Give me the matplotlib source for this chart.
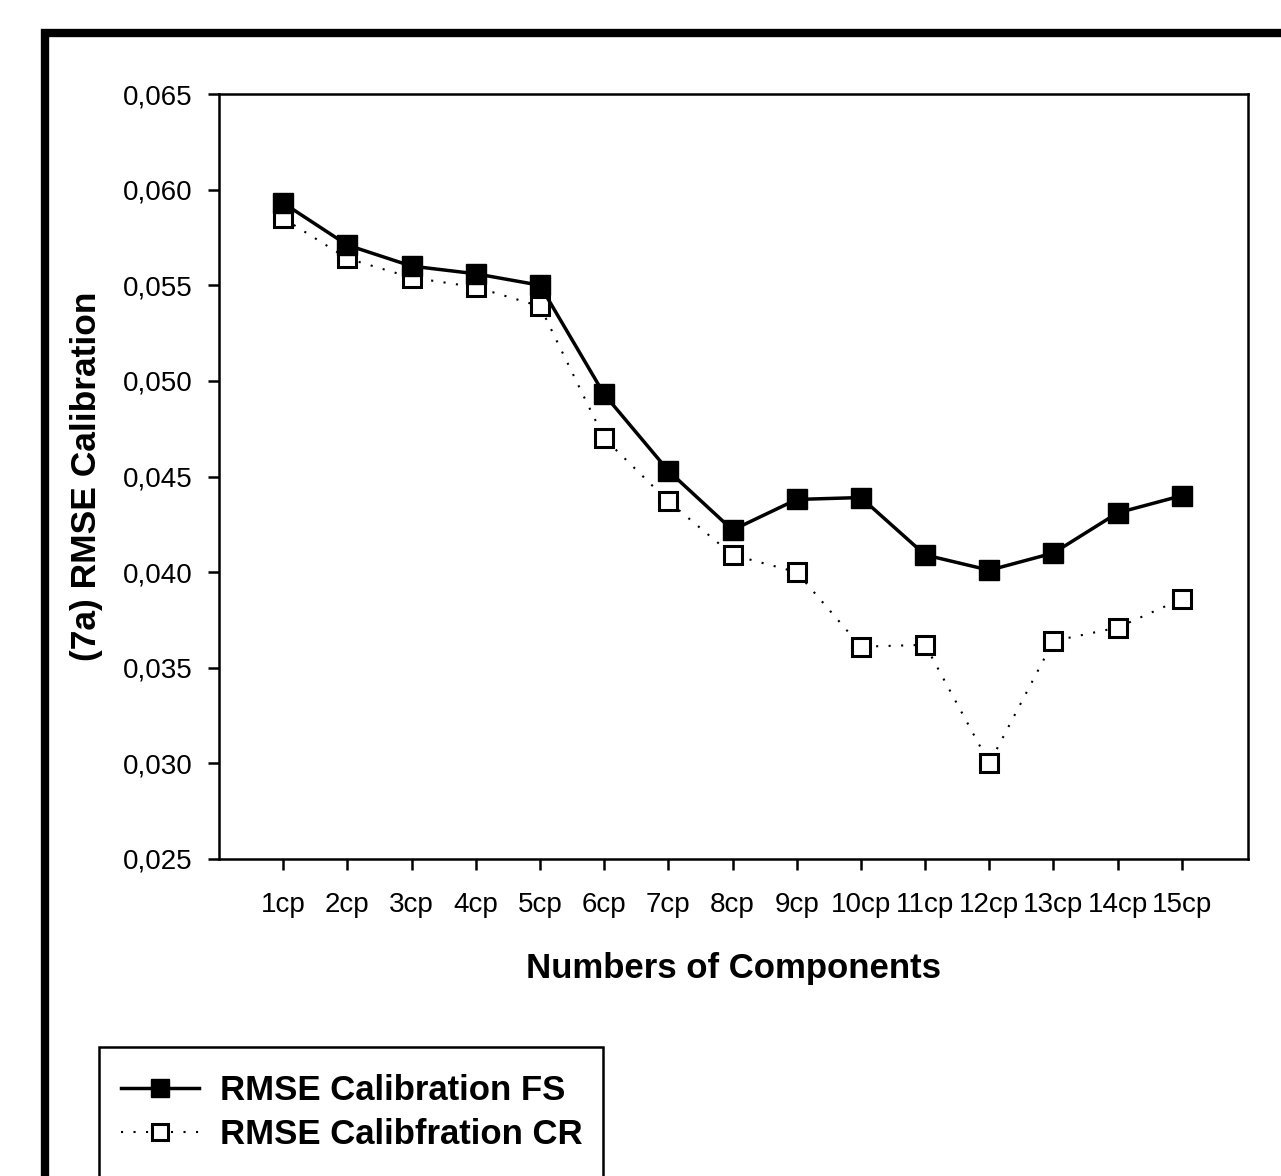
import matplotlib
matplotlib.use('Agg')
import matplotlib.pyplot as plt
from matplotlib.patches import Rectangle
from matplotlib.ticker import FuncFormatter

plt.rcParams['font.family'] = ['Liberation Sans', 'DejaVu Sans']

# Data
components = ['1cp', '2cp', '3cp', '4cp', '5cp', '6cp', '7cp', '8cp',
              '9cp', '10cp', '11cp', '12cp', '13cp', '14cp', '15cp']
rmse_fs = [0.0593, 0.0571, 0.0560, 0.0556, 0.0550, 0.0493, 0.0453, 0.0422,
           0.0438, 0.0439, 0.0409, 0.0401, 0.0410, 0.0431, 0.0440]
rmse_cr = [0.0585, 0.0564, 0.0554, 0.0549, 0.0539, 0.0470, 0.0437, 0.0409,
           0.0400, 0.0361, 0.0362, 0.0300, 0.0364, 0.0371, 0.0386]
yticks = [0.025, 0.030, 0.035, 0.040, 0.045, 0.050, 0.055, 0.060, 0.065]

W, H = 1281, 1176
fig = plt.figure(figsize=(W / 100, H / 100), dpi=100)
ax = fig.add_axes([219 / W, 1 - 859 / H, (1248 - 219) / W, (859 - 94) / H])

x = list(range(1, len(components) + 1))

# CR series (dotted, hollow squares)
ax.plot(x, rmse_cr, linestyle=(0, (1, 5)), color='black', linewidth=1.5,
        marker='s', markersize=13, markerfacecolor='white',
        markeredgecolor='black', markeredgewidth=2.2,
        label='RMSE Calibfration CR', zorder=3)
# FS series (solid, filled squares)
ax.plot(x, rmse_fs, linestyle='-', color='black', linewidth=2.5,
        marker='s', markersize=14, markerfacecolor='black',
        markeredgecolor='black', label='RMSE Calibration FS', zorder=4)

ax.set_xlim(0, 16.03)
ax.set_ylim(0.025, 0.065)
ax.set_xticks(x)
ax.set_xticklabels(components)
ax.set_yticks(yticks)
ax.yaxis.set_major_formatter(FuncFormatter(lambda v, p: f'{v:.3f}'.replace('.', ',')))

for s in ax.spines.values():
    s.set_linewidth(1.8)
ax.tick_params(axis='both', direction='out', length=8, width=1.8,
               labelsize=20, colors='black')
ax.tick_params(axis='x', pad=16)
ax.tick_params(axis='y', pad=11)

ax.set_xlabel('Numbers of Components', fontsize=25, fontweight='bold', labelpad=24)
ax.set_ylabel('(7a) RMSE Calibration', fontsize=25.5, fontweight='bold', labelpad=14)

# Outer thick frame (cut off on right and bottom)
fig.patches.append(Rectangle((45 / W, -0.2), 1.5, 1.2 - 33 / H,
                             transform=fig.transFigure, fill=False,
                             edgecolor='black', linewidth=6, zorder=0))

# Legend box (also cut off at the bottom)
fig.patches.append(Rectangle((99 / W, -0.1), (603 - 99) / W, 0.1 + 1 - 1047 / H,
                             transform=fig.transFigure, fill=False,
                             edgecolor='black', linewidth=1.8, zorder=1))

handles, labels = ax.get_legend_handles_labels()
leg = fig.legend(handles[::-1], labels[::-1], loc='upper left',
                 bbox_to_anchor=(121 / W, 1 - 1074 / H), frameon=False,
                 borderpad=0, borderaxespad=0, handlelength=2.25,
                 handletextpad=0.6, labelspacing=0.33, markerscale=0.9,
                 prop={'size': 25, 'weight': 'bold'})

fig.savefig('out.png', dpi=100, facecolor='white')
